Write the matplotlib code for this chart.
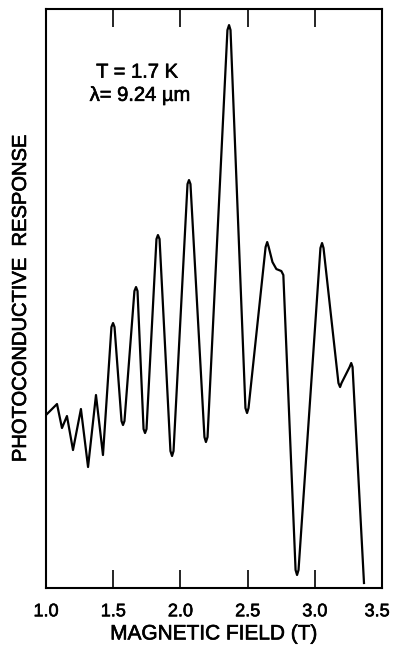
import matplotlib
matplotlib.use("Agg")
import matplotlib.pyplot as plt
import matplotlib.patheffects as pe
from matplotlib.transforms import ScaledTranslation

# magnetic field (T) and photoconductive response (arb. units)
field = [1.000, 1.082, 1.119, 1.156, 1.201, 1.260, 1.313, 1.372, 1.424,
         1.487, 1.499, 1.510, 1.562, 1.573, 1.584, 1.658, 1.670, 1.681,
         1.726, 1.737, 1.748, 1.822, 1.833, 1.845, 1.926, 1.938, 1.949,
         2.053, 2.064, 2.075, 2.179, 2.190, 2.202, 2.350, 2.362, 2.373,
         2.484, 2.496, 2.507, 2.634, 2.646, 2.657, 2.685, 2.714, 2.751,
         2.766, 2.857, 2.868, 2.879, 3.042, 3.054, 3.065, 3.176, 3.188,
         3.199, 3.259, 3.271, 3.281, 3.366]
response = [173, 184, 160, 172, 138, 179, 121, 193, 133,
            261, 265, 261, 167, 163, 167, 297, 301, 297,
            159, 155, 159, 349, 353, 349, 137, 132, 137,
            404, 408, 404, 151, 146, 151, 558, 563, 558,
            180, 175, 180, 341, 346, 341, 326, 319, 317,
            313, 18, 13, 18, 340, 345, 340, 205, 201,
            205, 221, 225, 221, 5]

xticks = [1.0, 1.5, 2.0, 2.5, 3.0, 3.5]
xticklabels = ["1.0", "1.5", "2.0", "2.5", "3.0", "3.5"]

plt.rcParams['font.family'] = ['Liberation Sans', 'DejaVu Sans']

# the scanned lettering is heavy, thicken it a little
heavy = [pe.withStroke(linewidth=0.45, foreground='black')]

fig = plt.figure(figsize=(3.93, 6.49), dpi=100)
ax = fig.add_axes([0.117, 0.094, 0.855, 0.892])

ax.plot(field, response, color='black', lw=1.6, solid_joinstyle='round')

ax.set_xlim(1.0, 3.5)
ax.set_ylim(0, 579)
ax.set_xticks(xticks)
ax.set_xticklabels(xticklabels, fontsize=13)
ax.set_yticks([])
ax.tick_params(axis='x', direction='in', length=13, width=1.2, top=True, pad=11)
for lab in ax.get_xticklabels():
    lab.set_path_effects(heavy)
# last label would run off the page edge, nudge it in a bit
last = ax.get_xticklabels()[-1]
last.set_transform(last.get_transform() + ScaledTranslation(-0.05, 0, fig.dpi_scale_trans))
for s in ax.spines.values():
    s.set_linewidth(1.5)

ax.set_xlabel("MAGNETIC FIELD (T)", fontsize=15, labelpad=3,
              path_effects=heavy)
fig.text(0.052, 0.54, "PHOTOCONDUCTIVE  RESPONSE", rotation=90,
         ha='center', va='center', fontsize=14.5, path_effects=heavy)

ax.text(0.271, 0.891, "T = 1.7 K", transform=ax.transAxes,
        ha='center', va='center', fontsize=14.5, path_effects=heavy)
ax.text(0.28, 0.851, "λ= 9.24 µm", transform=ax.transAxes,
        ha='center', va='center', fontsize=14.5, path_effects=heavy)

fig.savefig("out.png", dpi=100)
